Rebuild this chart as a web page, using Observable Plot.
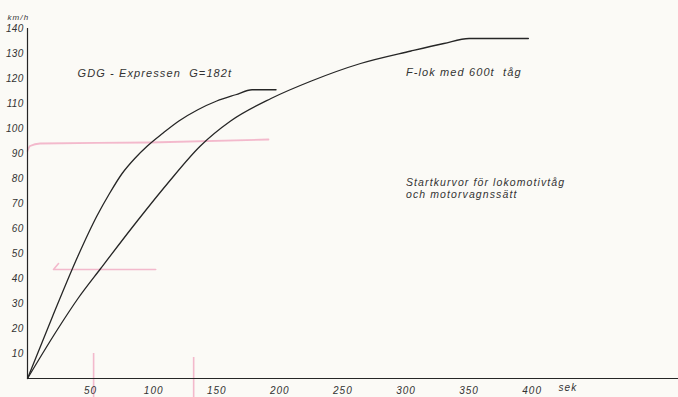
<!DOCTYPE html>
<html>
<head>
<meta charset="utf-8">
<script src="https://cdn.jsdelivr.net/npm/d3@7"></script>
<script src="https://cdn.jsdelivr.net/npm/@observablehq/plot@0.6"></script>
<style>
  html, body { margin: 0; padding: 0; background: #fbfaf6; }
  #chart svg { display: block; }
  #chart g[aria-label="text"] text { letter-spacing: 1.1px; }
  #chart g[aria-label="x-axis tick label"] text { letter-spacing: 1px; }
  #chart g[aria-label="y-axis tick label"] text { letter-spacing: 0.3px; }
</style>
</head>
<body>
<div id="chart"></div>
<script>
// GDG-Expressen G=182t: time (s) and speed (km/h)
const gdgTime  = [0, 20, 40, 55, 65, 75, 85, 95, 107, 120, 135, 150, 165, 178, 197];
const gdgSpeed = [0, 25, 49, 65, 74, 82, 88, 93, 98, 103, 107.5, 111, 113.5, 115.5, 115.5];
// F-lok med 600t tåg
const flokTime  = [0, 23, 40, 58, 87, 111, 137, 161, 193, 225, 264, 304, 330, 350, 397];
const flokSpeed = [0, 19, 32, 44, 63, 78, 93, 103, 112, 119, 126, 131, 134, 136, 136];

const xTicks = [50, 100, 150, 200, 250, 300, 350, 400];
const yTicks = [10, 20, 30, 40, 50, 60, 70, 80, 90, 100, 110, 120, 130, 140];

// pencil marks (pink) on the scanned sheet
const pinkUpperT = [0, 2, 10, 97, 191];
const pinkUpperV = [91, 93, 94, 94.4, 95.6];
const pinkLowerT = [24.6, 20.6, 101.6];
const pinkLowerV = [46, 43.6, 43.6];
const pinkVertT  = [52.4, 131.7];
const pinkVertTop = [10, 8.4];
const pinkVertBottom = [-7.6, -7.6];

// labels
const labelText = ["GDG - Expressen  G=182t", "F-lok med 600t  tåg", "Startkurvor för lokomotivtåg", "och motorvagnssätt"];
const labelT = [39.7, 300, 300, 300];
const labelV = [122, 122.4, 78.4, 73.4];
const labelSize = [11, 11, 10.5, 10.5];

const curves = [
  ...gdgTime.map((t, i) => ({series: "GDG", t, v: gdgSpeed[i]})),
  ...flokTime.map((t, i) => ({series: "F-lok", t, v: flokSpeed[i]}))
];
const pinkUpper = pinkUpperT.map((t, i) => ({t, v: pinkUpperV[i]}));
const pinkLower = pinkLowerT.map((t, i) => ({t, v: pinkLowerV[i]}));
const pinkVert = pinkVertT.map((t, i) => ({t, v1: pinkVertTop[i], v2: pinkVertBottom[i]}));
const labels = labelText.map((s, i) => ({s, t: labelT[i], v: labelV[i], size: labelSize[i]}));

const ink = "#262626";
const textInk = "#333333";
const pink = "#f0a3bd";

const chart = Plot.plot({
  width: 678,
  height: 397,
  marginLeft: 27,
  marginRight: 0,
  marginTop: 28,
  marginBottom: 19,
  style: {background: "#fbfaf6", fontFamily: "Liberation Sans, Arial, sans-serif", fontStyle: "italic", color: textInk},
  x: {domain: [0, 516]},
  y: {domain: [0, 140]},
  marks: [
    Plot.line(pinkUpper, {x: "t", y: "v", stroke: pink, strokeWidth: 1.8, strokeOpacity: 0.75, curve: "monotone-x"}),
    Plot.line(pinkLower, {x: "t", y: "v", stroke: pink, strokeWidth: 1.6, strokeOpacity: 0.75}),
    Plot.ruleX(pinkVert, {x: "t", y1: "v1", y2: "v2", stroke: pink, strokeWidth: 1.6, strokeOpacity: 0.75}),
    Plot.axisY({ticks: yTicks, tickSize: 0, tickPadding: 4, label: null, fontSize: 10, tickFormat: d => String(d)}),
    Plot.axisX({ticks: xTicks, tickSize: 0, tickPadding: 8, label: null, fontSize: 10, tickFormat: d => String(d)}),
    Plot.ruleX([0], {y1: 0, y2: 140, stroke: ink, strokeWidth: 1.2}),
    Plot.ruleY([0], {stroke: ink, strokeWidth: 1.2}),
    Plot.line(curves, {x: "t", y: "v", z: "series", stroke: ink, strokeWidth: 1.3, curve: "monotone-x"}),
    Plot.text(labels, {x: "t", y: "v", text: "s", textAnchor: "start", fontSize: "size", fill: textInk}),
    Plot.text(["km/h"], {frameAnchor: "top-left", dx: -20, dy: -14, textAnchor: "start", fontSize: 8, fill: textInk}),
    Plot.text(["sek"], {frameAnchor: "bottom-left", dx: 531, dy: 12, textAnchor: "start", fontSize: 10, fill: textInk})
  ]
});
document.getElementById("chart").appendChild(chart);
</script>
</body>
</html>
